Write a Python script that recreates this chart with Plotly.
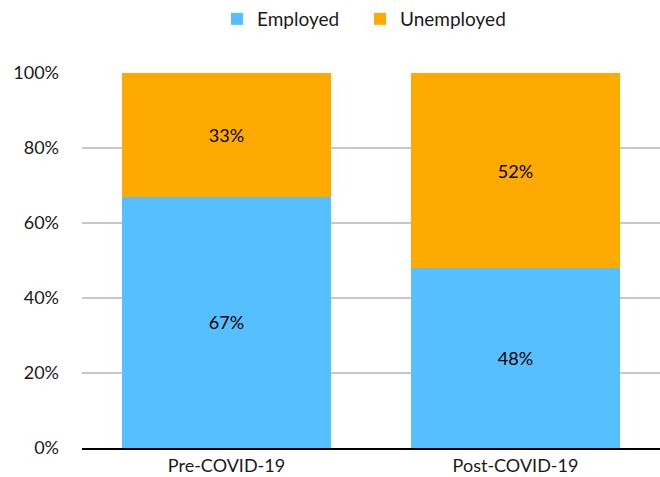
"""Stacked employment share chart, pre vs post COVID-19."""

import plotly.graph_objects as go

categories = ["Pre-COVID-19", "Post-COVID-19"]
employed = [67, 48]
unemployed = [33, 52]
y_ticks = [0, 20, 40, 60, 80, 100]
y_tick_labels = ["0%", "20%", "40%", "60%", "80%", "100%"]

FONT = "Lato, 'Open Sans', sans-serif"

fig = go.Figure()
fig.add_trace(go.Bar(
    x=categories, y=employed, name="Employed", legend="legend",
    marker=dict(color="#55BFFF", line=dict(width=0)),
    text=[f"{v}%" for v in employed], textposition="inside",
    insidetextanchor="middle", textfont=dict(color="black", size=18),
))
fig.add_trace(go.Bar(
    x=categories, y=unemployed, name="Unemployed", legend="legend2",
    marker=dict(color="#FFAA00", line=dict(width=0)),
    text=[f"{v}%" for v in unemployed], textposition="inside",
    insidetextanchor="middle", textfont=dict(color="black", size=18),
))

_legend = dict(
    orientation="h", xanchor="left", y=1.1436, yanchor="middle",
    font=dict(size=19), bgcolor="rgba(0,0,0,0)",
)

fig.update_layout(
    barmode="stack",
    bargap=0.28,
    width=660, height=477,
    margin=dict(l=82, r=0, t=72, b=29),
    paper_bgcolor="white", plot_bgcolor="white",
    font=dict(family=FONT, size=18, color="#1a1a1a"),
    showlegend=True,
    legend=dict(x=0.2336, **_legend),
    legend2=dict(x=0.481, **_legend),
    uniformtext=dict(mode="show", minsize=18),
)
fig.update_xaxes(
    showline=True, linecolor="black", linewidth=2, ticks="",
    tickfont=dict(size=18),
)
fig.update_yaxes(
    range=[0, 100], tickvals=y_ticks, ticktext=y_tick_labels,
    showgrid=True, gridcolor="#C8C8C8", gridwidth=1.5, zeroline=False,
    ticks="", ticklen=0, tickfont=dict(size=18), ticklabelstandoff=22,
)

# drop the default body margin so the figure sits at the page corner
fig.write_html(
    "out.html",
    config={"displayModeBar": False},
    post_script="document.body.style.margin='0';",
)
